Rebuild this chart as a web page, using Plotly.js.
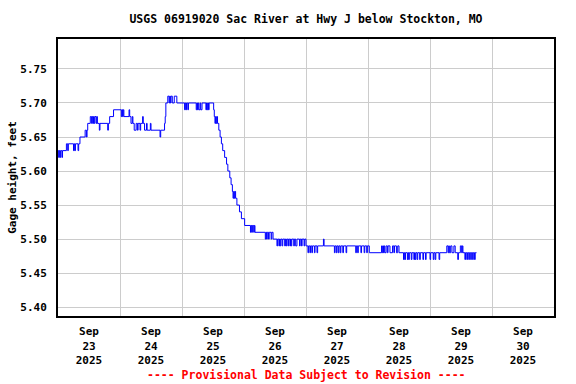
<!DOCTYPE html>
<html>
<head>
<meta charset="utf-8">
<script src="https://cdn.plot.ly/plotly-3.0.1.min.js"></script>
<style>
html,body{margin:0;padding:0;background:#fff;}
#chart{width:576px;height:384px;}
</style>
</head>
<body>
<div id="chart"></div>
<script>
// Readings: hours after 2025-09-23 00:00, and gage height (ft) from that moment
const hoursFromStart = [
0.00,0.25,0.50,0.75,1.00,1.50,1.75,3.25,3.75,4.00,6.00,6.25,6.50,6.75,7.75,8.00,8.50,
10.50,11.00,11.25,11.50,12.50,13.00,13.25,13.50,13.75,14.00,14.25,14.75,15.00,15.25,16.00,16.25,
19.25,19.50,20.00,21.50,24.50,24.75,25.00,25.25,25.50,27.50,27.75,28.25,28.75,29.00,29.50,
30.25,30.75,31.00,31.75,32.00,32.75,33.00,33.50,34.25,34.50,35.75,36.00,39.50,39.75,
41.25,41.50,41.75,42.50,43.00,43.25,43.50,43.75,44.25,45.00,46.00,
49.00,49.25,49.50,49.75,50.25,50.50,53.50,53.75,54.00,54.25,54.50,55.00,55.25,55.75,
57.25,57.50,57.75,58.00,58.25,58.50,60.25,60.50,60.75,61.00,61.25,61.50,61.75,
62.25,62.75,63.25,63.75,64.50,65.25,65.75,66.50,67.00,67.50,67.75,68.00,68.25,68.50,68.75,
69.25,70.25,71.00,72.25,74.50,74.75,75.00,75.25,75.75,76.00,76.25,
80.25,80.50,80.75,81.00,81.50,81.75,82.50,82.75,83.25,
84.75,85.00,85.50,85.75,86.00,86.25,86.75,87.00,87.75,88.00,88.25,88.50,89.00,89.25,
89.75,90.00,90.25,90.50,91.25,91.50,92.00,92.50,93.50,93.75,94.25,94.50,95.25,95.50,96.00,
96.75,97.00,97.50,97.75,98.25,98.50,99.25,99.50,100.25,100.50,102.75,103.00,
107.00,107.25,107.75,108.00,108.50,108.75,109.25,109.50,110.25,110.50,111.50,111.75,
115.25,115.50,116.00,116.25,117.25,117.50,118.50,118.75,119.50,119.75,120.50,
125.25,125.50,125.75,126.00,126.25,126.50,127.00,127.50,127.75,128.50,129.50,130.00,130.25,
131.00,131.50,132.00,133.75,134.00,134.25,134.50,135.25,135.50,135.75,136.00,136.75,137.00,
137.75,138.00,138.25,138.50,139.00,139.25,140.00,140.25,141.25,141.50,142.25,142.50,
144.00,144.25,145.25,145.50,146.00,146.25,147.50,147.75,
150.50,151.00,151.25,151.50,152.00,152.50,153.25,153.75,154.75,155.00,155.75,156.25,156.50,156.75,
157.50,157.75,158.25,158.50,159.00,159.25,159.75,160.00,160.50,160.75,161.25,161.50,162.00
];
const gageFt = [
5.63,5.62,5.63,5.62,5.63,5.62,5.63,5.64,5.63,5.64,5.63,5.64,5.63,5.64,5.63,5.64,5.65,
5.66,5.65,5.66,5.67,5.68,5.67,5.68,5.67,5.68,5.67,5.68,5.67,5.68,5.67,5.66,5.67,
5.66,5.67,5.68,5.69,5.68,5.69,5.68,5.69,5.68,5.69,5.68,5.67,5.68,5.67,5.66,
5.67,5.66,5.67,5.66,5.67,5.68,5.67,5.66,5.67,5.66,5.67,5.66,5.65,5.66,
5.67,5.68,5.70,5.71,5.70,5.71,5.70,5.71,5.70,5.71,5.70,
5.69,5.70,5.69,5.70,5.69,5.70,5.69,5.70,5.69,5.70,5.69,5.70,5.69,5.70,
5.69,5.70,5.69,5.70,5.69,5.70,5.69,5.68,5.67,5.68,5.67,5.68,5.67,
5.66,5.65,5.64,5.63,5.62,5.61,5.60,5.59,5.58,5.57,5.56,5.57,5.56,5.57,5.56,
5.55,5.54,5.53,5.52,5.51,5.52,5.51,5.52,5.51,5.52,5.51,
5.50,5.51,5.50,5.51,5.50,5.51,5.50,5.51,5.50,
5.49,5.50,5.49,5.50,5.49,5.50,5.49,5.50,5.49,5.50,5.49,5.50,5.49,5.50,
5.49,5.50,5.49,5.50,5.49,5.50,5.49,5.50,5.49,5.50,5.49,5.50,5.49,5.50,5.49,
5.48,5.49,5.48,5.49,5.48,5.49,5.48,5.49,5.48,5.49,5.50,5.49,
5.48,5.49,5.48,5.49,5.48,5.49,5.48,5.49,5.48,5.49,5.48,5.49,
5.48,5.49,5.48,5.49,5.48,5.49,5.48,5.49,5.48,5.49,5.48,
5.49,5.48,5.49,5.48,5.49,5.48,5.49,5.48,5.49,5.48,5.49,5.48,5.49,
5.48,5.49,5.48,5.47,5.48,5.47,5.48,5.47,5.48,5.47,5.48,5.47,5.48,
5.47,5.48,5.47,5.48,5.47,5.48,5.47,5.48,5.47,5.48,5.47,5.48,
5.47,5.48,5.47,5.48,5.47,5.48,5.47,5.48,
5.49,5.48,5.49,5.48,5.49,5.48,5.49,5.48,5.47,5.48,5.49,5.48,5.49,5.48,
5.47,5.48,5.47,5.48,5.47,5.48,5.47,5.48,5.47,5.48,5.47,5.48,5.48
];
const startDate = Date.UTC(2025, 8, 23, 0, 0);
const xRange = ['2025-09-23 00:00', '2025-10-01 00:00'];
const yRange = [5.387, 5.794];
const yTicks = [5.40, 5.45, 5.50, 5.55, 5.60, 5.65, 5.70, 5.75];
const titleText = 'USGS 06919020 Sac River at Hwy J below Stockton, MO';
const yTitle = 'Gage height, feet';
const noteText = '---- Provisional Data Subject to Revision ----';

function fmt(ms) {
  const d = new Date(ms);
  const p = n => String(n).padStart(2, '0');
  return d.getUTCFullYear() + '-' + p(d.getUTCMonth() + 1) + '-' + p(d.getUTCDate()) +
    ' ' + p(d.getUTCHours()) + ':' + p(d.getUTCMinutes());
}
const times = hoursFromStart.map(h => fmt(startDate + h * 3600000));

const FONT = 'DejaVu Sans Mono, Liberation Mono, monospace';

const trace = {
  x: times, y: gageFt, type: 'scatter', mode: 'lines',
  line: {color: '#0000ff', width: 1, shape: 'hv'},
  hoverinfo: 'skip'
};

const layout = {
  width: 576, height: 384,
  margin: {l: 58, r: 22, t: 39, b: 68},
  paper_bgcolor: '#ffffff', plot_bgcolor: '#ffffff',
  showlegend: false,
  font: {family: FONT, size: 11, color: '#000000', weight: 'bold'},
  title: {
    text: titleText, x: 0.5, xref: 'paper', xanchor: 'center',
    y: 1 - 19 / 384, yref: 'container', yanchor: 'middle',
    font: {family: FONT, size: 11.5, color: '#000000', weight: 'bold'}
  },
  xaxis: {
    type: 'date', range: xRange,
    tick0: '2025-09-23 00:00', dtick: 86400000,
    ticklabelmode: 'period', tickformat: '%b<br>%d<br>%Y',
    ticks: '', showgrid: true, gridcolor: '#cccccc', gridwidth: 1,
    showline: true, linecolor: '#000000', linewidth: 2, mirror: true,
    zeroline: false, ticklabelstandoff: 4,
    tickfont: {family: FONT, size: 11, color: '#000000', weight: 'bold'}
  },
  yaxis: {
    range: yRange, tickmode: 'array', tickvals: yTicks,
    ticktext: yTicks.map(v => v.toFixed(2)),
    ticks: '', showgrid: true, gridcolor: '#cccccc', gridwidth: 1,
    showline: true, linecolor: '#000000', linewidth: 2, mirror: true,
    zeroline: false, ticklabelstandoff: 7,
    tickfont: {family: FONT, size: 11, color: '#000000', weight: 'bold'},
    title: {text: yTitle, standoff: 1,
      font: {family: FONT, size: 11, color: '#000000', weight: 'bold'}}
  },
  annotations: [{
    text: noteText, xref: 'paper', yref: 'paper', x: 0.5, y: -(375 - 316) / 277,
    xanchor: 'center', yanchor: 'middle', showarrow: false,
    font: {family: FONT, size: 11.5, color: '#ff0000', weight: 'bold'}
  }]
};

Plotly.newPlot('chart', [trace], layout, {staticPlot: true, displayModeBar: false});
</script>
</body>
</html>
